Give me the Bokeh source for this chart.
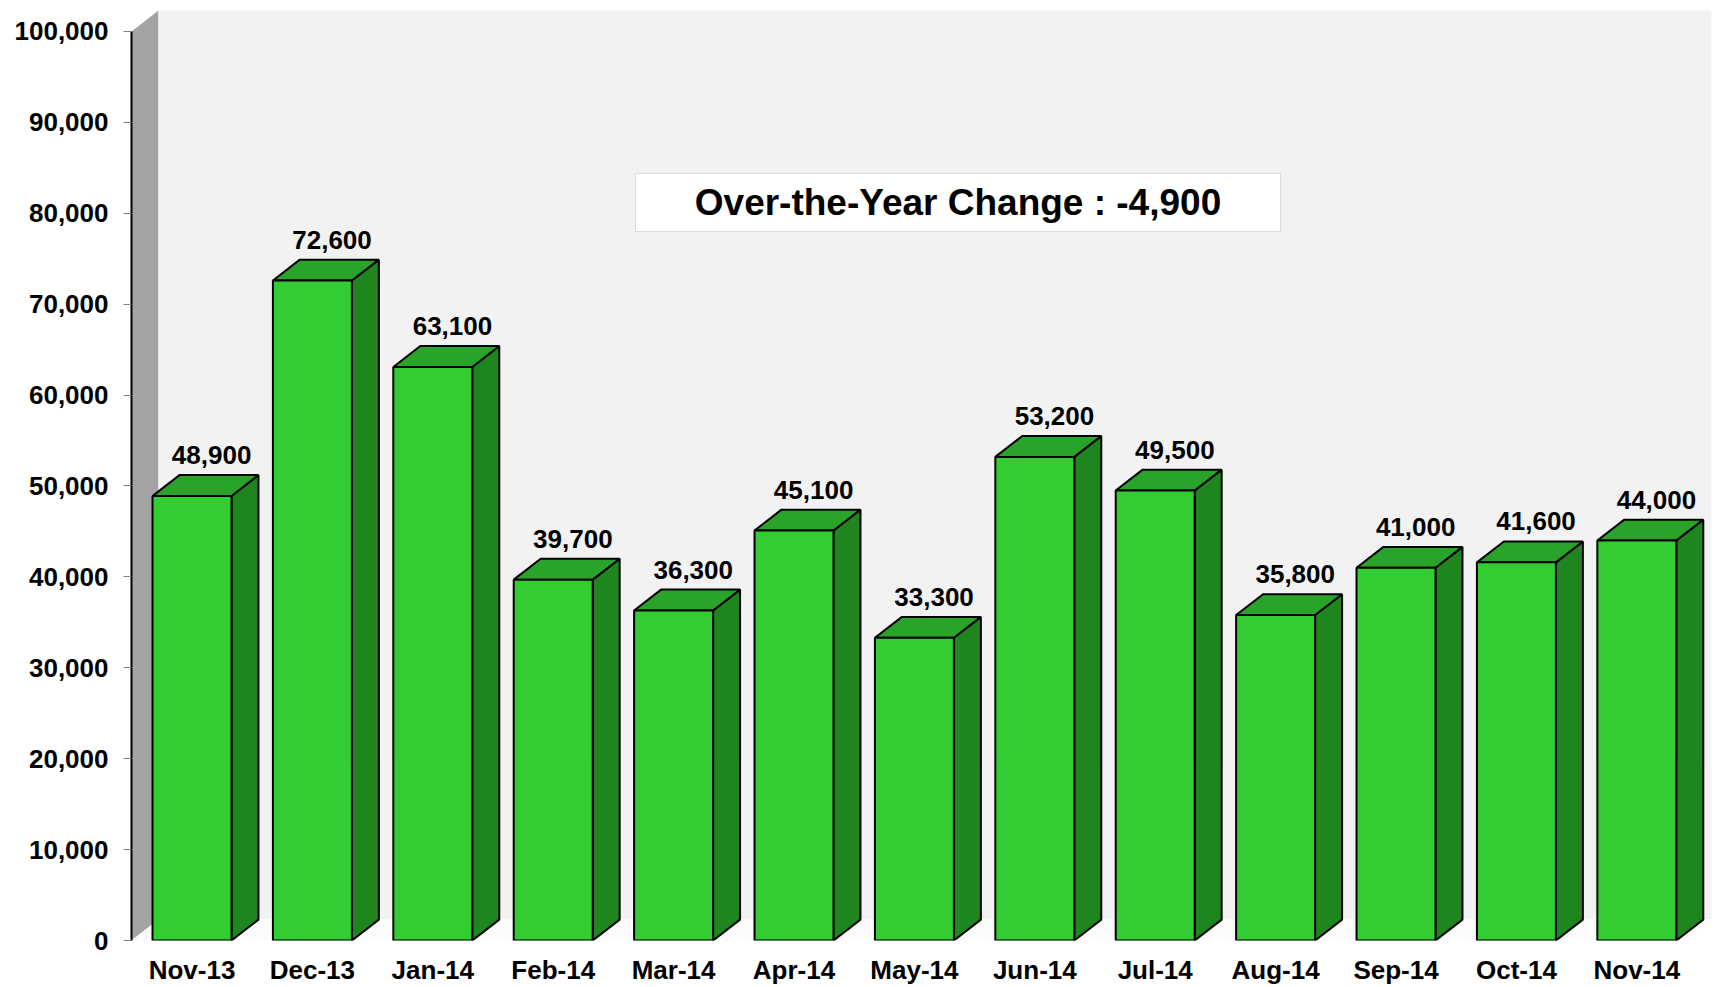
from bokeh.plotting import figure
from bokeh.models import ColumnDataSource, FixedTicker, NumeralTickFormatter, Label, Range1d
from bokeh.core.properties import value
from bokeh.embed import file_html
from bokeh.resources import INLINE

# ---- data ----
months = ["Nov-13", "Dec-13", "Jan-14", "Feb-14", "Mar-14", "Apr-14", "May-14",
          "Jun-14", "Jul-14", "Aug-14", "Sep-14", "Oct-14", "Nov-14"]
values = [48900, 72600, 63100, 39700, 36300, 45100, 33300,
          53200, 49500, 35800, 41000, 41600, 44000]
y_ticks = [0, 10000, 20000, 30000, 40000, 50000, 60000, 70000, 80000, 90000, 100000]
note = "Over-the-Year Change : -4,900"

# ---- geometry (3D look) ----
half_w = 0.328      # half width of bar front face, in category units
dx = 0.224          # depth offset, category units
dy = 2300           # depth offset, value units
x_lo, x_hi = -0.5025, 12.695
y_hi = 103410
wall_end = 12.62

FONT = "Liberation Sans"

p = figure(width=1720, height=987, output_backend="svg", toolbar_location=None,
           x_range=Range1d(x_lo, x_hi), y_range=Range1d(0, y_hi),
           min_border_left=131, min_border_right=0, min_border_top=0, min_border_bottom=47)
p.background_fill_color = "white"
p.border_fill_color = "white"
p.outline_line_color = None
p.xgrid.visible = False
p.ygrid.visible = False

# side wall (left)
p.patch([x_lo, x_lo, x_lo + dx, x_lo + dx], [0, y_ticks[-1], y_ticks[-1] + dy, dy],
        fill_color="#a3a3a3", line_color=None)
# back wall
p.patch([x_lo + dx, x_lo + dx, wall_end, wall_end], [dy, y_ticks[-1] + dy, y_ticks[-1] + dy, dy],
        fill_color="#f2f2f2", line_color=None)
# floor
p.patch([x_lo, x_lo + dx, wall_end, wall_end - dx], [0, dy, dy, 0],
        fill_color="#fbfbfb", line_color=None)

xs = list(range(len(months)))
top_xs, top_ys, side_xs, side_ys = [], [], [], []
for i, v in zip(xs, values):
    xl, xr = i - half_w, i + half_w
    top_xs.append([xl, xl + dx, xr + dx, xr])
    top_ys.append([v, v + dy, v + dy, v])
    side_xs.append([xr, xr, xr + dx, xr + dx])
    side_ys.append([0, v, v + dy, dy])

p.patches(side_xs, side_ys, fill_color="#1f861f", line_color="black", line_width=2)
p.patches(top_xs, top_ys, fill_color="#29a329", line_color="black", line_width=2)
p.vbar(x=xs, top=values, bottom=0, width=2 * half_w, fill_color="#33cc33",
       line_color="black", line_width=2)

lab_src = ColumnDataSource(dict(x=[i + 0.163 for i in xs],
                                y=[v + dy + 2200 for v in values],
                                t=[f"{v:,}" for v in values]))
p.text(x="x", y="y", text="t", source=lab_src, text_align="center",
       text_baseline="alphabetic", text_font=value(FONT), text_font_style="bold",
       text_font_size="26px", text_color="black")

# annotation box
p.quad(left=[3.684], right=[9.04], bottom=[78000], top=[84400],
       fill_color="white", line_color="#d9d9d9", line_width=1)
p.add_layout(Label(x=6.362, y=81200, text=note, text_align="center",
                   text_baseline="middle", text_font=FONT,
                   text_font_style="bold", text_font_size="37px", text_color="black"))

# y axis
ya = p.yaxis[0]
ya.ticker = FixedTicker(ticks=y_ticks)
ya.formatter = NumeralTickFormatter(format="0,0")
ya.bounds = (0, y_ticks[-1])
ya.axis_line_color = "black"
ya.axis_line_width = 2
ya.major_tick_out = 8
ya.major_tick_in = 0
ya.major_tick_line_color = "#808080"
ya.minor_tick_line_color = None
ya.major_label_text_font = FONT
ya.major_label_text_font_style = "bold"
ya.major_label_text_font_size = "26px"
ya.major_label_text_color = "black"
ya.major_label_standoff = 15

# x axis
xa = p.xaxis[0]
xa.ticker = FixedTicker(ticks=xs)
xa.major_label_overrides = {i: m for i, m in zip(xs, months)}
xa.axis_line_color = None
xa.major_tick_line_color = None
xa.minor_tick_line_color = None
xa.major_label_text_font = FONT
xa.major_label_text_font_style = "bold"
xa.major_label_text_font_size = "26px"
xa.major_label_text_color = "black"
xa.major_label_standoff = 8

open("out.html", "w").write(file_html(p, INLINE))
